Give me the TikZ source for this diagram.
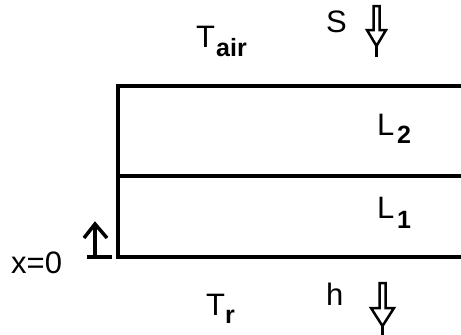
\documentclass[tikz,border=0pt]{standalone}
\usepackage{fontspec}
\setmainfont{Liberation Sans}
\tikzset{
  layerline/.style={line width=4.5pt, line cap=rect},
  flowarrow/.style={line width=2.5pt, line join=miter},
  upmark/.style={line width=3.5pt},
  bigtxt/.style={inner sep=0pt, anchor=base west, font=\fontsize{31}{33}\selectfont},
  subtxt/.style={inner sep=0pt, anchor=base west, font=\fontsize{25}{27}\selectfont},
  subbold/.style={subtxt, font=\fontsize{25}{27}\selectfont\bfseries}
}
\begin{document}
\begin{tikzpicture}[x=1pt, y=-1pt]
\useasboundingbox (0,0) rectangle (461,335);
% layers
\coordinate (tl) at (118,86);
\coordinate (tr) at (461,86);
\coordinate (ml) at (118,176);
\coordinate (mr) at (461,176);
\coordinate (bl) at (118,257);
\coordinate (br) at (461,257);
\draw[layerline] (tr) -- (tl) -- (bl) -- (br);
\draw[layerline] (ml) -- (mr);
% labels
\node[bigtxt] (Tair) at (196,47) {T};
\node[subbold] (air) at (216,56) {air};
\node[bigtxt] (S) at (326,32) {S};
\node[bigtxt] (L2) at (377,135) {L};
\node[subbold] (L2s) at (397,143) {2};
\node[bigtxt] (L1) at (377,218) {L};
\node[subbold] (L1s) at (397,228) {1};
\node[bigtxt] (x0) at (11,273) {x=0};
\node[bigtxt] (Tr) at (206,315) {T};
\node[subbold] (r) at (225,323) {r};
\node[bigtxt] (h) at (326,305) {h};
% S arrow
\draw[flowarrow] (373.5,6) -- (379.5,6) -- (379.5,30) -- (386,30) -- (376.5,46) -- (367,30) -- (373.5,30) -- cycle;
\draw[flowarrow] (376.5,46) -- (376.5,57);
% h arrow
\draw[flowarrow] (379.5,283) -- (385.5,283) -- (385.5,308) -- (394,308) -- (382.5,326) -- (371,308) -- (379.5,308) -- cycle;
\draw[flowarrow] (382.5,326) -- (382.5,335);
% x=0 up mark
\draw[upmark] (95,257) -- (95,224);
\draw[upmark] (84,238) -- (95,224) -- (107,238);
\draw[upmark] (87,257) -- (112,257);
\end{tikzpicture}
\end{document}
